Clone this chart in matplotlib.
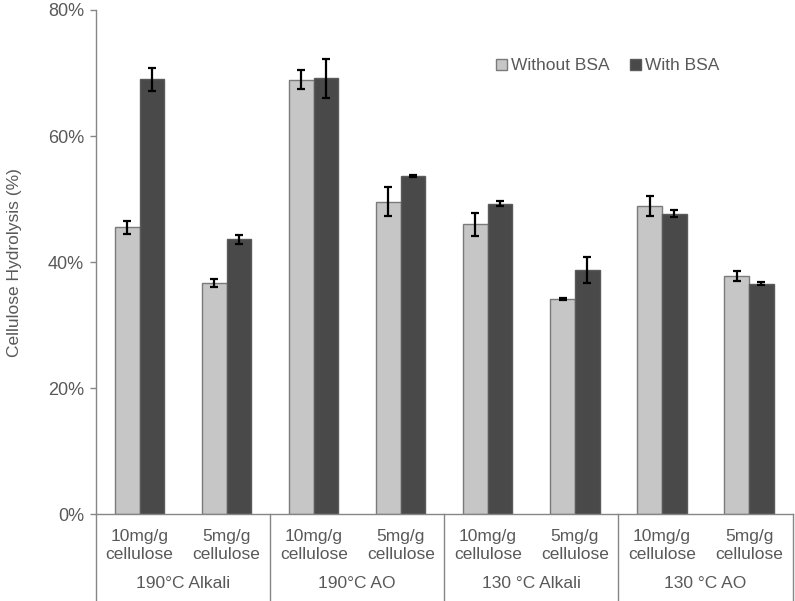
import matplotlib
matplotlib.use("Agg")
import matplotlib.pyplot as plt
import numpy as np
from matplotlib.lines import Line2D
from matplotlib.patches import Patch

plt.rcParams['font.family'] = ['Liberation Sans', 'DejaVu Sans']

groups = ["190°C Alkali", "190°C AO", "130 °C Alkali", "130 °C AO"]
subcats = ["10mg/g\ncellulose", "5mg/g\ncellulose"] * 4
without_bsa = [45.5, 36.7, 68.9, 49.6, 46.0, 34.1, 48.9, 37.8]
with_bsa = [69.0, 43.6, 69.2, 53.7, 49.3, 38.7, 47.7, 36.6]
without_err = [1.1, 0.65, 1.5, 2.3, 1.85, 0.15, 1.55, 0.75]
with_err = [1.8, 0.65, 3.1, 0.2, 0.4, 2.05, 0.55, 0.2]
yticks = [0, 20, 40, 60, 80]
ytick_labels = ["0%", "20%", "40%", "60%", "80%"]

text_color = "#595959"
axis_color = "#868686"
light = "#C6C6C6"
dark = "#494949"

fig = plt.figure(figsize=(7.95, 6.01), dpi=100)
ax = fig.add_axes([0.1208, 0.1443, 0.9969 - 0.1208, 0.9834 - 0.1443])

x = np.arange(len(subcats))
w = 0.283
ax.bar(x - w / 2, without_bsa, w, color=light, edgecolor="#7a7a7a", linewidth=1.0,
       yerr=without_err, error_kw=dict(ecolor="black", elinewidth=1.6, capsize=3, capthick=1.6),
       label="Without BSA", zorder=2)
ax.bar(x + w / 2, with_bsa, w, color=dark, edgecolor="#5a5a5a", linewidth=1.0,
       yerr=with_err, error_kw=dict(ecolor="black", elinewidth=1.6, capsize=3, capthick=1.6),
       label="With BSA", zorder=2)

ax.set_xlim(-0.5, len(subcats) - 0.5)
ax.set_ylim(0, 80)
ax.set_yticks(yticks)
ax.set_yticklabels(ytick_labels, color=text_color, fontsize=13)
ax.tick_params(axis='y', direction='out', length=4.5, width=1, colors=axis_color,
               labelcolor=text_color, pad=4)
ax.set_xticks([])
for s in ["top", "right"]:
    ax.spines[s].set_visible(False)
ax.spines["left"].set_color(axis_color)
ax.spines["bottom"].set_color(axis_color)
ax.spines["left"].set_linewidth(1.0)
ax.spines["bottom"].set_linewidth(1.0)

ax.set_ylabel("Cellulose Hydrolysis (%)", color=text_color, fontsize=12.5, labelpad=19)

# sub-category labels
trans = ax.get_xaxis_transform()
for xi, lab in zip(x, subcats):
    ax.text(xi, -0.03, lab, transform=trans, ha="center", va="top", fontsize=12.5,
            color=text_color, linespacing=1.2)
# group labels and separators
for gi, g in enumerate(groups):
    ax.text(2 * gi + 0.5, -0.137, g, transform=trans, ha="center", va="center",
            fontsize=12.5, color=text_color)
for b in np.arange(-0.5, len(subcats), 2):
    ax.add_line(Line2D([b, b], [0, -0.2], transform=trans, color=axis_color,
                       linewidth=1.0, clip_on=False))

handles = [Patch(facecolor=light, edgecolor="#7a7a7a", label="Without BSA"),
           Patch(facecolor=dark, edgecolor="#5a5a5a", label="With BSA")]
leg = ax.legend(handles=handles, loc="upper left", bbox_to_anchor=(0.552, 0.935),
                ncol=2, frameon=False, fontsize=12.5, handlelength=0.6, handleheight=0.6,
                handletextpad=0.25, columnspacing=1.2)
for t in leg.get_texts():
    t.set_color(text_color)

fig.savefig("out.png", dpi=100)
